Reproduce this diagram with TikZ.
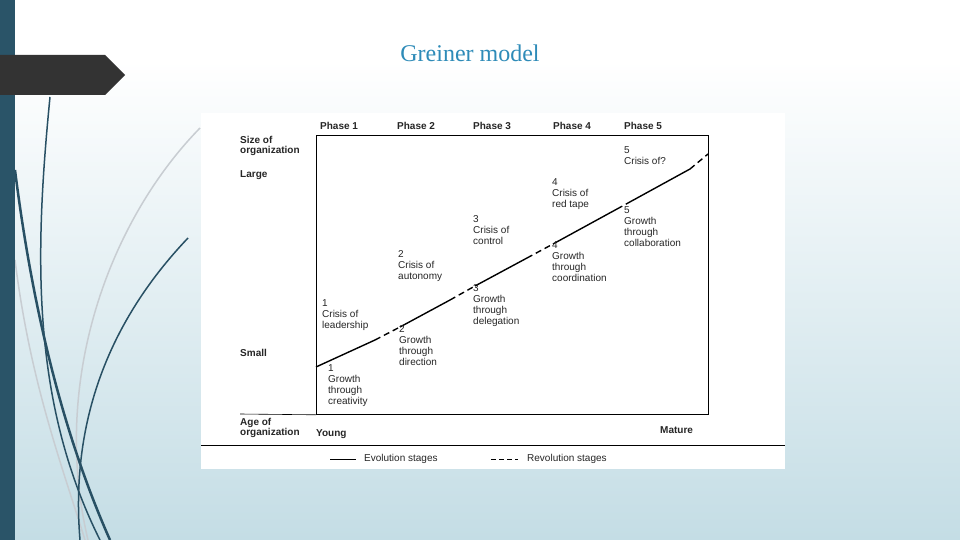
\documentclass[tikz,border=0pt]{standalone}
\usepackage{fontspec}
\setmainfont{Liberation Serif}
\newfontfamily\arial{Liberation Sans}
\definecolor{darkteal}{RGB}{42,84,104}
\definecolor{curvedark}{RGB}{40,80,100}
\definecolor{curvelight}{RGB}{200,205,210}
\definecolor{bannergray}{RGB}{51,51,51}
\definecolor{titleblue}{RGB}{46,139,184}
\definecolor{bgblue}{RGB}{196,221,229}
\begin{document}
\begin{tikzpicture}[x=1pt,y=-1pt,
  lbl/.style={font=\arial\fontsize{10}{11}\selectfont,anchor=north west,inner sep=0pt,align=left,text=black!85},
  blbl/.style={lbl,font=\arial\bfseries\fontsize{10}{10.5}\selectfont},
  curveD/.style={draw=curvedark},
  curveL/.style={draw=curvelight,line width=1.5pt}]
\useasboundingbox (0,0) rectangle (960,540);
\shade[top color=white,bottom color=bgblue] (0,60) rectangle (960,540);
\fill[white] (0,0) rectangle (960,60);
% decorative curves
\draw[curveL] (200,128) .. controls (110,220) and (50,380) .. (88,540);
\draw[curveL] (15,260) .. controls (30,380) and (60,460) .. (85,540);
\draw[curveD,line width=1.5pt] (50,97) .. controls (35,250) and (30,400) .. (100,540);
\draw[curveD,line width=2.5pt] (15,170) .. controls (35,330) and (70,450) .. (110,540);
\draw[curveD,line width=1.5pt] (188,238) .. controls (110,320) and (70,420) .. (80,540);
\fill[darkteal] (0,0) rectangle (15,540);
\fill[bannergray] (0,55) -- (105,55) -- (125,75) -- (105,95) -- (0,95) -- cycle;
\node[font=\fontsize{24}{28}\selectfont,text=titleblue] (title) at (470,53) {Greiner model};
% chart panel
\fill[white] (201,113) rectangle (785,469);
\node[draw=black,line width=0.8pt,minimum width=392pt,minimum height=279pt,inner sep=0pt,anchor=north west] (frame) at (316,135) {};
\draw[line width=0.6pt] (240,414) -- (frame.south west);
\draw[line width=0.6pt] (201,445) -- (785,445);
\draw[line width=1.4pt] (316,367) -- (375,340) (400,327) -- (450,300) (475,286) -- (527,258) (553,244) -- (617,209) (628,203) -- (690,169);
\draw[line width=1.4pt,dash pattern=on 6pt off 4pt] (375,340) -- (400,327) (450,300) -- (475,286) (527,258) -- (553,244) (617,209) -- (628,203) (690,169) -- (708,154);
% headers
\foreach \x/\n in {320/1,397/2,473/3,553/4,624/5}
  \node[blbl] (ph\n) at (\x,122) {Phase \n};
\node[blbl] (size) at (240,136) {Size of\\organization};
\node[blbl] (large) at (240,170) {Large};
\node[blbl] (small) at (240,349) {Small};
\node[blbl] (age) at (240,418) {Age of\\organization};
\node[blbl] (young) at (316,429) {Young};
\node[blbl] (mature) at (660,426) {Mature};
% labels
\node[lbl] (c1) at (322,299) {1\\Crisis of\\leadership};
\node[lbl] (g1) at (328,364) {1\\Growth\\through\\creativity};
\node[lbl] (c2) at (398,250) {2\\Crisis of\\autonomy};
\node[lbl] (g2) at (399,325) {2\\Growth\\through\\direction};
\node[lbl] (c3) at (473,215) {3\\Crisis of\\control};
\node[lbl] (g3) at (473,284) {3\\Growth\\through\\delegation};
\node[lbl] (c4) at (552,178) {4\\Crisis of\\red tape};
\node[lbl] (g4) at (552,241) {4\\Growth\\through\\coordination};
\node[lbl] (c5) at (624,146) {5\\Crisis of?};
\node[lbl] (g5) at (624,206) {5\\Growth\\through\\collaboration};
% legend
\coordinate (e1) at (330,459); \coordinate (e2) at (356,459);
\draw[line width=0.8pt] (e1) -- (e2);
\node[lbl,anchor=west] (evo) at (364,459) {Evolution stages};
\coordinate (r1) at (491,459); \coordinate (r2) at (518,459);
\draw[line width=0.8pt,dash pattern=on 5pt off 3pt] (r1) -- (r2);
\node[lbl,anchor=west] (rev) at (527,459) {Revolution stages};
\end{tikzpicture}
\end{document}
